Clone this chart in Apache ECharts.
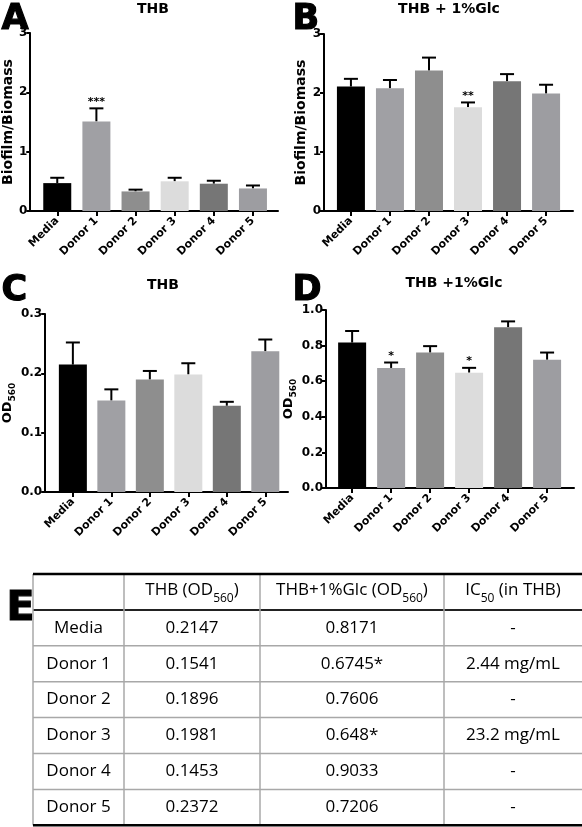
<!DOCTYPE html>
<html><head><meta charset="utf-8">
<script src="https://cdn.jsdelivr.net/npm/echarts@6/dist/echarts.min.js"></script>
<style>html,body{margin:0;padding:0;background:#fff}#c{width:582px;height:827px}</style>
</head><body><div id="c"></div>
<script>
// ---- data ----
var categories = ['Media', 'Donor 1', 'Donor 2', 'Donor 3', 'Donor 4', 'Donor 5'];
var barColors = ['#000000', '#a0a0a4', '#8e8e8e', '#dcdcdc', '#767676', '#9d9da1'];
// Panel A: THB biofilm/biomass
var biofilmTHB = [0.47, 1.51, 0.33, 0.50, 0.46, 0.38];
var biofilmTHBErr = [0.56, 1.73, 0.36, 0.56, 0.51, 0.43];
var biofilmTHBSig = ['', '***', '', '', '', ''];
// Panel B: THB + 1%Glc biofilm/biomass
var biofilmGlc = [2.11, 2.08, 2.38, 1.76, 2.20, 1.99];
var biofilmGlcErr = [2.24, 2.22, 2.60, 1.84, 2.32, 2.14];
var biofilmGlcSig = ['', '', '', '**', '', ''];
// Panel C: THB OD560
var odTHB = [0.2147, 0.1541, 0.1896, 0.1981, 0.1453, 0.2372];
var odTHBErr = [0.252, 0.173, 0.204, 0.217, 0.152, 0.257];
var odTHBSig = ['', '', '', '', '', ''];
// Panel D: THB + 1%Glc OD560
var odGlc = [0.8171, 0.6745, 0.7606, 0.648, 0.9033, 0.7206];
var odGlcErr = [0.882, 0.705, 0.797, 0.675, 0.936, 0.761];
var odGlcSig = ['', '*', '', '*', '', ''];
// Table E
var ic50 = ['-', '2.44 mg/mL', '-', '23.2 mg/mL', '-', '-'];
var tableHeaders = ['', '{n|THB (OD}{sub|560}{n|)}', '{n|THB+1%Glc (OD}{sub|560}{n|)}', '{n|IC}{sub|50}{n| (in THB)}'];

// ---- layout ----
var F = 'DejaVu Sans';
var panels = [
  {left: 30, top: 33, width: 248, height: 178, xmin: -0.69, xmax: 5.64, ymax: 3, interval: 1, dec: 0,
   vals: biofilmTHB, err: biofilmTHBErr, sig: biofilmTHBSig, title: 'THB', tx: 153, ty: 9, letter: 'A', lx: 1, ly: 2,
   name: 'Biofilm/Biomass', nameGap: 14},
  {left: 324, top: 34, width: 249, height: 177, xmin: -0.69, xmax: 5.69, ymax: 3, interval: 1, dec: 0,
   vals: biofilmGlc, err: biofilmGlcErr, sig: biofilmGlcSig, title: 'THB + 1%Glc', tx: 449, ty: 9, letter: 'B', lx: 292, ly: 2,
   name: 'Biofilm/Biomass', nameGap: 16},
  {left: 42, top: 314, width: 246, height: 178, xmin: -0.72, xmax: 5.59, ymax: 0.3, interval: 0.1, dec: 1,
   vals: odTHB, err: odTHBErr, sig: odTHBSig, title: 'THB', tx: 163, ty: 285, letter: 'C', lx: 1, ly: 273,
   name: '{n|OD}{sub|560}', nameGap: 28},
  {left: 326, top: 310, width: 248, height: 178, xmin: -0.67, xmax: 5.69, ymax: 1.0, interval: 0.2, dec: 1,
   vals: odGlc, err: odGlcErr, sig: odGlcSig, title: 'THB +1%Glc', tx: 454, ty: 283, letter: 'D', lx: 292, ly: 273,
   name: '{n|OD}{sub|560}', nameGap: 27}
];
var tickIdx = categories.map(function (c, i) { return i; });

var grids = [], xAxes = [], yAxes = [], series = [], graphics = [];
panels.forEach(function (p, k) {
  grids.push({left: p.left, top: p.top, width: p.width, height: p.height, containLabel: false});
  xAxes.push({
    type: 'value', gridIndex: k, min: p.xmin, max: p.xmax, splitLine: {show: false},
    axisLine: {show: true, onZero: false, lineStyle: {color: '#000', width: 2}},
    axisTick: {show: true, customValues: tickIdx, length: 5, lineStyle: {color: '#000', width: 2}},
    axisLabel: {show: true, customValues: tickIdx, rotate: 45, margin: 8, color: '#000',
      fontFamily: F, fontWeight: 'bold', fontSize: 11,
      formatter: function (v) { return categories[Math.round(v)] || ''; }}
  });
  yAxes.push({
    type: 'value', gridIndex: k, min: 0, max: p.ymax, interval: p.interval, splitLine: {show: false},
    axisLine: {show: true, onZero: false, lineStyle: {color: '#000', width: 2}},
    axisTick: {show: true, length: 4, lineStyle: {color: '#000', width: 2}},
    axisLabel: {color: '#000', fontFamily: F, fontWeight: 'bold', fontSize: 12, margin: 3,
      formatter: function (v) { return v.toFixed(p.dec); }},
    name: p.name, nameLocation: 'middle', nameGap: p.nameGap, nameRotate: 90,
    nameTextStyle: {color: '#000', fontFamily: F, fontWeight: 'bold', fontSize: 14,
      rich: {
        n: {fontFamily: F, fontWeight: 'bold', fontSize: 13, lineHeight: 14, verticalAlign: 'top', color: '#000'},
        sub: {fontFamily: F, fontWeight: 'bold', fontSize: 9, lineHeight: 16, verticalAlign: 'bottom', color: '#000'}
      }}
  });
  series.push({
    type: 'bar', xAxisIndex: k, yAxisIndex: k, barWidth: 28, silent: true, z: 2,
    data: p.vals.map(function (v, i) { return {value: [i, v], itemStyle: {color: barColors[i]}}; })
  });
  series.push({
    type: 'custom', xAxisIndex: k, yAxisIndex: k, silent: true, z: 1,
    data: p.vals.map(function (v, i) { return [i, v, p.err[i], i]; }),
    renderItem: function (params, api) {
      var i = api.value(3);
      var base = api.coord([api.value(0), api.value(1)]);
      var top = api.coord([api.value(0), api.value(2)]);
      var children = [
        {type: 'line', shape: {x1: base[0], y1: base[1], x2: top[0], y2: top[1]}, style: {stroke: '#000', lineWidth: 2}},
        {type: 'line', shape: {x1: top[0] - 7, y1: top[1], x2: top[0] + 7, y2: top[1]}, style: {stroke: '#000', lineWidth: 2}}
      ];
      var s = p.sig[i];
      if (s) {
        children.push({type: 'text', style: {text: s, x: top[0], y: top[1] - 1, align: 'center', verticalAlign: 'bottom',
          fill: '#000', font: 'bold 11px "' + F + '"'}});
      }
      return {type: 'group', children: children};
    }
  });
  graphics.push({type: 'text', left: p.lx, top: p.ly, style: {text: p.letter, fill: '#000', stroke: '#000', lineWidth: 1.2,
    font: 'bold 35px "' + F + '"'}});
  graphics.push({type: 'text', x: p.tx, y: p.ty, style: {text: p.title, fill: '#000', align: 'center', verticalAlign: 'middle',
    font: 'bold 14px "' + F + '"'}});
});

// ---- table E ----
var tLeft = 33, tRight = 582, tTop = 574, rowH = 35.9;
var colX = [33, 124, 260, 444];
var colC = [78.5, 192, 352, 513];
var TF = 'Open Sans';
var nRows = categories.length + 1;
var tBottom = tTop + rowH * nRows;
graphics.push({type: 'text', left: 6, top: 588, style: {text: 'E', fill: '#000', stroke: '#000', lineWidth: 1.2,
  font: 'bold 41px "' + F + '"'}});
for (var r = 1; r < nRows; r++) {
  var yy = tTop + rowH * r;
  graphics.push({type: 'line', shape: {x1: tLeft, y1: yy, x2: tRight, y2: yy},
    style: {stroke: r === 1 ? '#222' : '#a8a8a8', lineWidth: r === 1 ? 2 : 1.5}, z: 1});
}
colX.forEach(function (x) {
  graphics.push({type: 'line', shape: {x1: x, y1: tTop, x2: x, y2: tBottom}, style: {stroke: '#a8a8a8', lineWidth: 1.5}, z: 1});
});
graphics.push({type: 'line', shape: {x1: tLeft, y1: tTop, x2: tRight, y2: tTop}, style: {stroke: '#000', lineWidth: 2.5}, z: 2});
graphics.push({type: 'line', shape: {x1: tLeft, y1: tBottom, x2: tRight, y2: tBottom}, style: {stroke: '#000', lineWidth: 2.5}, z: 2});
var richHead = {
  n: {fontFamily: TF, fontSize: 17, lineHeight: 20, verticalAlign: 'top', fill: '#000'},
  sub: {fontFamily: TF, fontSize: 12, lineHeight: 23, verticalAlign: 'bottom', fill: '#000'}
};
tableHeaders.forEach(function (h, c) {
  if (!h) return;
  graphics.push({type: 'text', x: colC[c], y: tTop + rowH / 2 + 1.5, z: 3,
    style: {text: h, fill: '#000', fontFamily: TF, fontSize: 17, align: 'center', verticalAlign: 'middle', rich: richHead}});
});
categories.forEach(function (cat, i) {
  var cells = [cat, String(odTHB[i]), String(odGlc[i]) + odGlcSig[i], ic50[i]];
  cells.forEach(function (t, c) {
    graphics.push({type: 'text', x: colC[c], y: tTop + rowH * (i + 1.5), z: 3,
      style: {text: t, fill: '#000', fontFamily: TF, fontSize: 17, align: 'center', verticalAlign: 'middle'}});
  });
});

var chart = echarts.init(document.getElementById('c'), null, {renderer: 'canvas'});
chart.setOption({
  backgroundColor: '#fff', animation: false,
  grid: grids, xAxis: xAxes, yAxis: yAxes, series: series, graphic: graphics
});
</script></body></html>
